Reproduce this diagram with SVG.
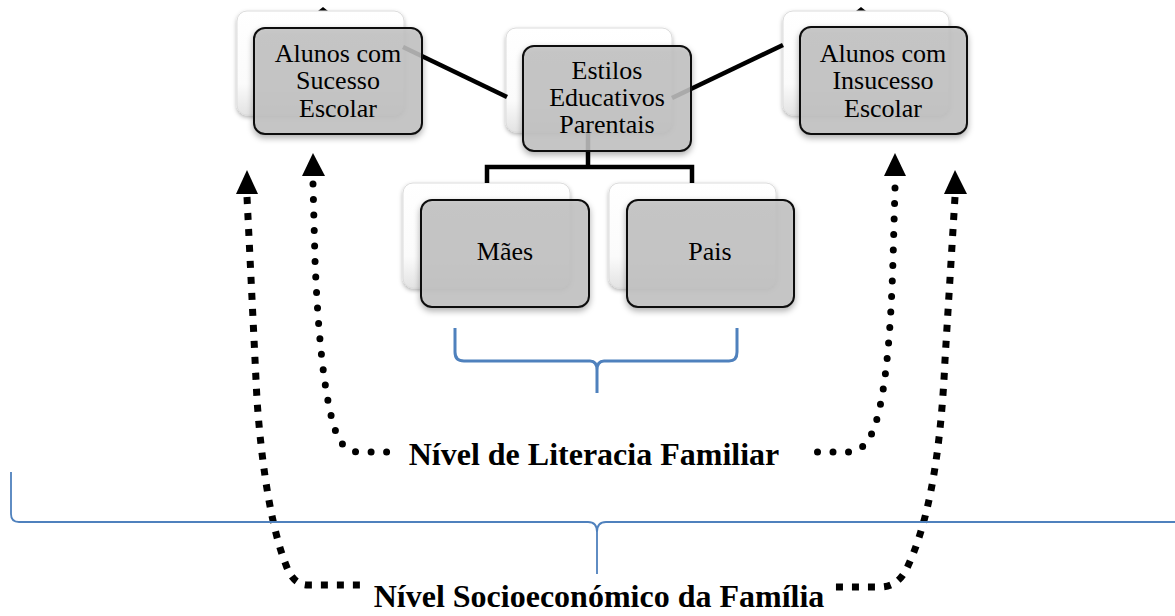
<svg xmlns="http://www.w3.org/2000/svg" width="1175" height="616" viewBox="0 0 1175 616">
  <style>
    .back { fill: url(#backGrad); stroke: #dcdcdc; stroke-width: 1; filter: url(#shadowLight); }
    .front { fill: #c2c2c2; fill-opacity: 0.85; stroke: #111; stroke-width: 2; filter: url(#shadow); }
    .lbl { font-family: "Liberation Serif", "Times New Roman", serif; font-size: 26px; fill: #000; text-anchor: middle; }
    .big { font-family: "Liberation Serif", "Times New Roman", serif; font-size: 32px; font-weight: bold; fill: #000; text-anchor: middle; }
    .conn { fill: none; stroke: #000; stroke-width: 4.5; }
    .dots { fill: none; stroke: #000; stroke-width: 7; stroke-linecap: round; stroke-dasharray: 0 15.5; }
    .squares { fill: none; stroke: #000; stroke-width: 7; stroke-dasharray: 7 9; }
    .brace { fill: none; stroke: #4f81bd; }
    .head { fill: #000; }
  </style>
  <defs>
    <linearGradient id="backGrad" x1="0" y1="0" x2="0" y2="1">
      <stop offset="0" stop-color="#ffffff"/>
      <stop offset="0.7" stop-color="#fbfbfb"/>
      <stop offset="1" stop-color="#e3e3e3"/>
    </linearGradient>
    <filter id="shadow" x="-10%" y="-10%" width="130%" height="140%">
      <feDropShadow dx="0" dy="3" stdDeviation="3" flood-color="#000" flood-opacity="0.35"/>
    </filter>
    <filter id="shadowLight" x="-10%" y="-10%" width="130%" height="140%">
      <feDropShadow dx="0" dy="2" stdDeviation="2" flood-color="#000" flood-opacity="0.3"/>
    </filter>
  </defs>

  <rect width="1175" height="616" fill="#fff"/>

  <!-- tiny marks peeking above cards -->
  <polygon class="head" points="318,11 323,7 328,11"/>
  <polygon class="head" points="856,11 861,7 866,11"/>

  <!-- back cards -->
  <g id="backs">
    <rect class="back" x="237" y="11" width="167" height="104" rx="10"/>
    <rect class="back" x="506" y="28" width="166" height="104" rx="10"/>
    <rect class="back" x="783" y="11" width="166" height="104" rx="10"/>
    <rect class="back" x="403" y="183" width="167" height="105" rx="10"/>
    <rect class="back" x="609" y="183" width="167" height="105" rx="10"/>
  </g>

  <!-- connectors -->
  <g id="connectors">
    <line class="conn" x1="403" y1="47" x2="507" y2="97"/>
    <line class="conn" x1="672" y1="98" x2="783" y2="45"/>
    <polyline class="conn" points="588,132 588,167"/>
    <polyline class="conn" points="487,183 487,167 692,167 692,183"/>

    <!-- dotted (round) arrows to Literacia -->
    <path class="dots" d="M313,184 L315,260 C319,360 328,415 338,437 Q345,452 360,452 L396,452"/>
    <polygon class="head" points="313,153 302,176 325,176"/>
    <path class="dots" d="M895,188 L893,260 C890,360 882,415 870,437 Q862,452 848,452 L806,452"/>
    <polygon class="head" points="895,153 884,176 906,176"/>

    <!-- square dashed arrows to Socioeconómico -->
    <path class="squares" d="M247,197 L257,400 C262,470 272,530 286,565 Q293,585 308,585 L366,585"/>
    <polygon class="head" points="247,170 236,194 258,194"/>
    <path class="squares" d="M955,197 L945,360 C940,470 925,530 907,568 Q898,587 880,587 L831,587"/>
    <polygon class="head" points="955,170 944,194 967,194"/>

    <!-- braces -->
    <path class="brace" stroke-width="3" d="M455,328 L455,352 Q455,361 464,361 L590,361 Q597,361 597,370 L597,393 M597,370 Q597,361 604,361 L729,361 Q737,361 737,352 L737,328"/>
    <path class="brace" stroke-width="1.8" d="M11,472 L11,514 Q11,522 19,522 L588,522 Q597,522 597,532 L597,574 M597,532 Q597,522 606,522 L1175,522"/>
  </g>

  <!-- nodes -->
  <g id="node-sucesso">
    <rect class="front" x="254" y="28" width="168" height="106" rx="11"/>
    <text class="lbl" x="338" y="62">Alunos com</text>
    <text class="lbl" x="338" y="89">Sucesso</text>
    <text class="lbl" x="338" y="117">Escolar</text>
  </g>
  <g id="node-estilos">
    <rect class="front" x="523" y="46" width="168" height="105" rx="11"/>
    <text class="lbl" x="607" y="79">Estilos</text>
    <text class="lbl" x="607" y="106">Educativos</text>
    <text class="lbl" x="607" y="133">Parentais</text>
  </g>
  <g id="node-insucesso">
    <rect class="front" x="800" y="27" width="167" height="107" rx="11"/>
    <text class="lbl" x="883" y="62">Alunos com</text>
    <text class="lbl" x="883" y="89">Insucesso</text>
    <text class="lbl" x="883" y="117">Escolar</text>
  </g>
  <g id="node-maes">
    <rect class="front" x="421" y="200" width="168" height="107" rx="11"/>
    <text class="lbl" x="505" y="260">Mães</text>
  </g>
  <g id="node-pais">
    <rect class="front" x="627" y="200" width="167" height="107" rx="11"/>
    <text class="lbl" x="710" y="260">Pais</text>
  </g>

  <g id="labels">
    <text class="big" x="594" y="465">Nível de Literacia Familiar</text>
    <text class="big" x="599" y="607">Nível Socioeconómico da Família</text>
  </g>
</svg>
